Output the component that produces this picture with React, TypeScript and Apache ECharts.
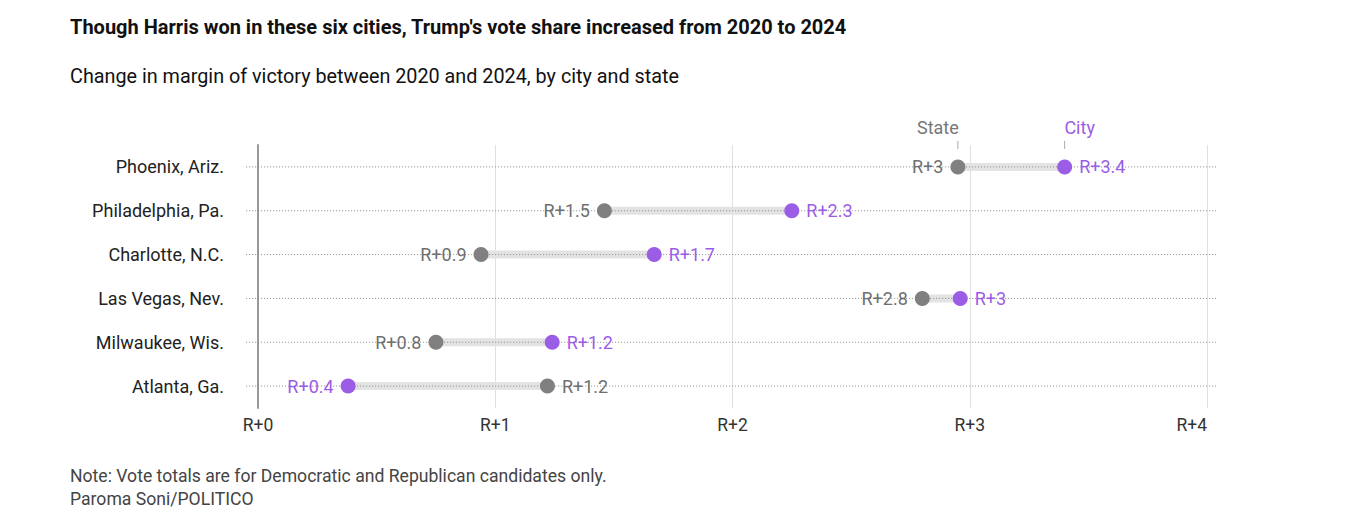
import React, { useEffect, useRef } from "react";
import * as echarts from "echarts";

const cities = ["Phoenix, Ariz.", "Philadelphia, Pa.", "Charlotte, N.C.", "Las Vegas, Nev.", "Milwaukee, Wis.", "Atlanta, Ga."];
const stateValues = [2.95, 1.46, 0.94, 2.8, 0.75, 1.22];
const cityValues = [3.4, 2.25, 1.67, 2.96, 1.24, 0.38];
const stateLabels = ["R+3", "R+1.5", "R+0.9", "R+2.8", "R+0.8", "R+1.2"];
const cityLabels = ["R+3.4", "R+2.3", "R+1.7", "R+3", "R+1.2", "R+0.4"];
const xTicks = [0, 1, 2, 3, 4];

const PURPLE = "#9b5de5";
const GRAY = "#808080";
const FONT = "Roboto";

export default function App() {
  const ref = useRef<HTMLDivElement>(null);
  useEffect(() => {
    if (!ref.current) return;
    const chart = echarts.init(ref.current, undefined, { renderer: "svg" });
    const rows = cities.map((c, i) => [i, stateValues[i], cityValues[i]]);
    const option = {
      animation: false,
      textStyle: { fontFamily: FONT },
      grid: { left: 250, right: 148, top: 137, bottom: 129 },
      graphic: [
        { type: "text", left: 62, top: 9, style: { text: "Though Harris won in these six cities, Trump's vote share increased from 2020 to 2024", fontFamily: FONT, fontWeight: "bold", fontSize: 20, fill: "#111" } },
        { type: "text", left: 62, top: 58, style: { text: "Change in margin of victory between 2020 and 2024, by city and state", fontFamily: FONT, fontSize: 19.8, fill: "#111" } },
        { type: "text", left: 62, top: 459, style: { text: "Note: Vote totals are for Democratic and Republican candidates only.", fontFamily: FONT, fontSize: 17.6, fill: "#444" } },
        { type: "text", left: 62, top: 482, style: { text: "Paroma Soni/POLITICO", fontFamily: FONT, fontSize: 17.6, fill: "#444" } },
      ],
      xAxis: {
        type: "value",
        min: 0,
        max: 4,
        interval: 1,
        axisLine: { show: false },
        axisTick: { show: false },
        axisLabel: { formatter: (v: number) => (xTicks.includes(v) ? "R+" + v : ""), fontSize: 17.5, color: "#333", margin: 8, fontFamily: FONT, alignMaxLabel: "right" },
        splitLine: { show: true, lineStyle: { color: "#e0e0e0", width: 1 } },
      },
      yAxis: {
        type: "category",
        inverse: true,
        data: cities,
        axisTick: { show: false },
        axisLine: { show: true, lineStyle: { color: "#999", width: 2 } },
        axisLabel: { fontSize: 18, color: "#222", margin: 34, fontFamily: FONT },
        splitLine: { show: false },
      },
      series: [
        {
          type: "custom",
          z: 1,
          data: rows,
          renderItem: (params: any, api: any) => {
            const i = api.value(0);
            const s = api.value(1);
            const c = api.value(2);
            const p0 = api.coord([-0.05, i]);
            const p1 = api.coord([4.04, i]);
            const ps = api.coord([s, i]);
            const pc = api.coord([c, i]);
            const y = p0[1];
            const children: any[] = [
              { type: "rect", shape: { x: Math.min(ps[0], pc[0]), y: y - 4, width: Math.abs(pc[0] - ps[0]), height: 8 }, style: { fill: "#e3e3e3" } },
              { type: "line", shape: { x1: p0[0], y1: y, x2: p1[0], y2: y }, style: { stroke: "#8a8a8a", lineWidth: 1, lineDash: [1, 2] } },
            ];
            if (params.dataIndex === 0) {
              children.push(
                { type: "line", shape: { x1: ps[0], y1: y - 26, x2: ps[0], y2: y - 18 }, style: { stroke: "#aaa", lineWidth: 1 } },
                { type: "line", shape: { x1: pc[0], y1: y - 26, x2: pc[0], y2: y - 18 }, style: { stroke: "#aaa", lineWidth: 1 } },
                { type: "text", x: ps[0] - 20, y: y - 39, style: { text: "State", fontFamily: FONT, fontSize: 18, fill: "#777", align: "center", verticalAlign: "middle" } },
                { type: "text", x: pc[0] + 15, y: y - 39, style: { text: "City", fontFamily: FONT, fontSize: 18, fill: PURPLE, align: "center", verticalAlign: "middle" } }
              );
            }
            return { type: "group", children };
          },
        },
        {
          type: "scatter",
          name: "State",
          z: 3,
          symbolSize: 15,
          itemStyle: { color: GRAY, opacity: 1 },
          data: stateValues.map((v, i) => ({
            value: [v, i],
            label: {
              show: true,
              formatter: stateLabels[i],
              position: v < cityValues[i] ? "left" : "right",
              distance: 7,
              color: "#6f6f6f",
              fontSize: 18,
              fontFamily: FONT,
            },
          })),
        },
        {
          type: "scatter",
          name: "City",
          z: 4,
          symbolSize: 15,
          itemStyle: { color: PURPLE, opacity: 1 },
          data: cityValues.map((v, i) => ({
            value: [v, i],
            label: {
              show: true,
              formatter: cityLabels[i],
              position: v > stateValues[i] ? "right" : "left",
              distance: 7,
              color: PURPLE,
              fontSize: 18,
              fontFamily: FONT,
            },
          })),
        },
      ],
    };
    chart.setOption(option as any);
    return () => chart.dispose();
  }, []);
  return <div ref={ref} style={{ width: 1347, height: 529 }} />;
}
